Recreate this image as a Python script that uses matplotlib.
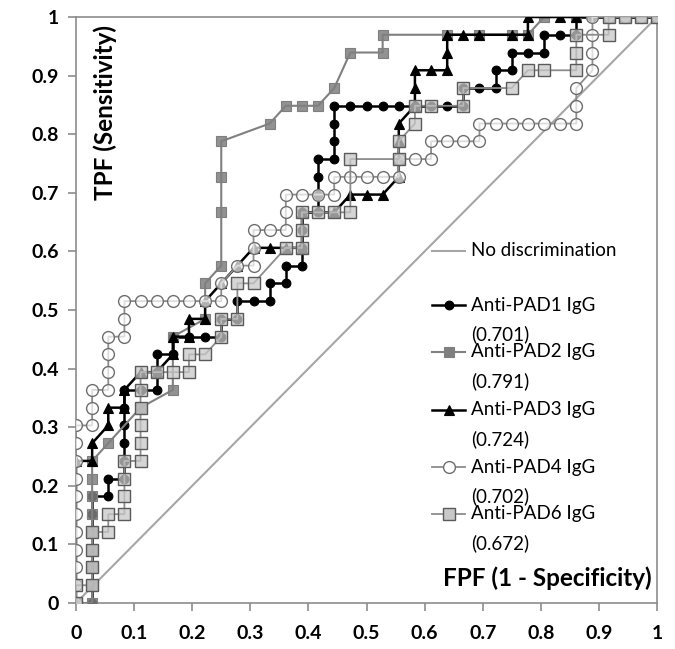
import numpy as np
import matplotlib
matplotlib.use("Agg")
import matplotlib.pyplot as plt
from matplotlib.lines import Line2D

# Sample sizes: controls (x axis) and cases (y axis)
N_CONTROLS = 36
N_CASES = 33

# ROC operating points as cumulative counts (false positives, true positives)
pad1_fp = [0, 1, 1, 1, 2, 2, 3, 3, 3, 3, 3, 3, 4, 5, 5, 5, 6, 6, 7, 8, 9, 9, 10, 10, 11, 12, 12, 13, 13, 14,
           14, 14, 14, 15, 15, 15, 15, 16, 16, 16, 16, 17, 18, 19, 20, 21, 22, 23, 24, 24, 25, 26, 26, 27, 27,
           28, 29, 29, 30, 31, 31, 32, 33, 34, 35, 36]
pad1_tp = [0, 0, 5, 6, 6, 7, 7, 8, 9, 10, 11, 12, 12, 12, 13, 14, 14, 15, 15, 15, 15, 16, 16, 17, 17, 17, 18, 18, 19, 19,
           20, 21, 22, 22, 23, 24, 25, 25, 26, 27, 28, 28, 28, 28, 28, 28, 28, 28, 28, 29, 29, 29, 30, 30, 31,
           31, 31, 32, 32, 32, 33, 33, 33, 33, 33, 33]

pad2_fp = [0, 1, 1, 1, 1, 1, 1, 1, 1, 1, 2, 4, 6, 6, 8, 8, 9, 9, 9, 9, 12, 13, 14, 15, 16, 17, 19, 19, 23, 25,
           27, 28, 29, 31, 33, 34, 35, 36]
pad2_tp = [0, 0, 1, 2, 3, 4, 5, 6, 7, 8, 9, 11, 12, 15, 16, 18, 19, 22, 24, 26, 27, 28, 28, 28, 29, 31, 31, 32, 32, 32,
           32, 32, 33, 33, 33, 33, 33, 33]

pad3_fp = [0, 0, 1, 1, 2, 2, 3, 3, 4, 5, 6, 6, 7, 7, 8, 8, 9, 10, 11, 12, 13, 14, 14, 16, 17, 18, 19, 20, 20, 20,
           20, 21, 21, 21, 22, 23, 23, 23, 24, 25, 27, 28, 28, 30, 31, 36]
pad3_tp = [0, 8, 8, 9, 10, 11, 11, 12, 13, 13, 14, 15, 15, 16, 16, 17, 18, 19, 20, 20, 20, 20, 22, 22, 23, 23, 23, 24, 25, 26,
           27, 28, 29, 30, 30, 30, 31, 32, 32, 32, 32, 32, 33, 33, 33, 33]

pad4_fp = [0, 0, 0, 0, 0, 0, 0, 0, 0, 0, 0, 1, 1, 1, 2, 2, 2, 2, 3, 3, 3, 4, 5, 6, 7, 8, 9, 9, 10, 11,
           11, 11, 12, 13, 13, 13, 14, 15, 16, 16, 17, 18, 19, 20, 20, 21, 22, 22, 23, 24, 25, 25, 26, 27, 28,
           29, 30, 31, 31, 31, 32, 32, 32, 32, 33, 34, 35, 36]
pad4_tp = [0, 1, 2, 3, 4, 5, 6, 7, 8, 9, 10, 10, 11, 12, 12, 13, 14, 15, 15, 16, 17, 17, 17, 17, 17, 17, 17, 18, 19, 19,
           20, 21, 21, 21, 22, 23, 23, 23, 23, 24, 24, 24, 24, 24, 25, 25, 25, 26, 26, 26, 26, 27, 27, 27, 27,
           27, 27, 27, 28, 29, 30, 31, 32, 33, 33, 33, 33, 33]

pad6_fp = [0, 0, 1, 1, 1, 1, 2, 2, 3, 3, 3, 3, 4, 4, 4, 4, 4, 4, 5, 6, 7, 7, 8, 9, 9, 10, 10, 11, 13, 14,
           14, 14, 15, 16, 17, 17, 20, 20, 21, 21, 22, 24, 24, 27, 28, 29, 31, 31, 31, 33, 33, 34, 35, 36]
pad6_tp = [0, 1, 1, 2, 3, 4, 4, 5, 5, 6, 7, 8, 8, 9, 10, 11, 12, 13, 13, 13, 13, 14, 14, 15, 16, 16, 18, 18, 20, 20,
           21, 22, 22, 22, 22, 25, 25, 26, 27, 28, 28, 28, 29, 29, 30, 30, 30, 31, 32, 32, 33, 33, 33, 33]

series_names = ["Anti-PAD1 IgG", "Anti-PAD2 IgG", "Anti-PAD3 IgG", "Anti-PAD4 IgG", "Anti-PAD6 IgG"]
auc_labels = ["(0.701)", "(0.791)", "(0.724)", "(0.702)", "(0.672)"]
tick_values = [0, 0.1, 0.2, 0.3, 0.4, 0.5, 0.6, 0.7, 0.8, 0.9, 1]
tick_labels = ["0", "0.1", "0.2", "0.3", "0.4", "0.5", "0.6", "0.7", "0.8", "0.9", "1"]

W, H = 675, 649
fig = plt.figure(figsize=(W / 100, H / 100), dpi=100)
ax = fig.add_axes([76 / W, 1 - 603 / H, 581 / W, 586 / H])

FONT = "Lato"
AXIS_GRAY = "#8c8c8c"

styles = [
    dict(color="black", lw=1.8, marker="o", ms=6.3, mfc="black", mec="black", mew=0.8, alpha_face=1.0),
    dict(color="#808080", lw=1.5, marker="s", ms=7.5, mfc="#7f7f7f", mec="#7f7f7f", mew=0.8, alpha_face=0.85),
    dict(color="black", lw=1.8, marker="^", ms=7, mfc="black", mec="black", mew=0.8, alpha_face=1.0),
    dict(color="#8c8c8c", lw=1.3, marker="o", ms=8.5, mfc="white", mec="#6e6e6e", mew=1.0, alpha_face=0.7),
    dict(color="#8c8c8c", lw=1.3, marker="s", ms=8, mfc="#c8c8c8", mec="#5a5a5a", mew=1.0, alpha_face=0.75),
]

series = [(pad1_fp, pad1_tp), (pad2_fp, pad2_tp), (pad3_fp, pad3_tp), (pad4_fp, pad4_tp), (pad6_fp, pad6_tp)]

# chance line
ax.plot([0, 1], [0, 1], color="#a6a6a6", lw=1.5, zorder=1)

for k, ((fp, tp), st) in enumerate(zip(series, styles)):
    x = np.asarray(fp) / N_CONTROLS
    y = np.asarray(tp) / N_CASES
    ax.plot(x, y, color=st["color"], lw=st["lw"], zorder=2 + 2 * k)
    face = matplotlib.colors.to_rgba(st["mfc"], st["alpha_face"])
    ax.plot(x, y, ls="none", marker=st["marker"], ms=st["ms"], mfc=face, mec=st["mec"],
            mew=st["mew"], zorder=3 + 2 * k)

ax.set_xlim(0, 1)
ax.set_ylim(0, 1)
ax.set_xticks(tick_values)
ax.set_yticks(tick_values)
ax.set_xticklabels(tick_labels)
ax.set_yticklabels(tick_labels)
for s in ax.spines.values():
    s.set_color(AXIS_GRAY)
    s.set_linewidth(1.2)
ax.tick_params(direction="out", length=6, width=1.2, color=AXIS_GRAY, labelsize=14)
ax.tick_params(axis="x", pad=10)
ax.tick_params(axis="y", pad=6)
for lab in ax.get_xticklabels() + ax.get_yticklabels():
    lab.set_fontfamily(FONT)
    lab.set_fontweight("bold")
    lab.set_color("black")

ax.text(0.05, 0.987, "TPF (Sensitivity)", rotation=90, ha="center", va="top",
        transform=ax.transAxes, fontsize=17.5, fontweight="bold", family=FONT)
ax.text(0.991, 0.043, "FPF (1 - Specificity)", ha="right", va="center",
        transform=ax.transAxes, fontsize=17.5, fontweight="bold", family=FONT)

# legend drawn in axes coordinates
def ax_xy(px, py):
    return (px - 76) / 581, (603 - py) / 586

LEG_FS = 13.5
lx0, lx1, tx = 432, 465, 471
_, ly = ax_xy(0, 251)
a0, _ = ax_xy(lx0, 0)
a1, _ = ax_xy(lx1, 0)
at, _ = ax_xy(tx, 0)
ax.add_line(Line2D([a0, a1], [ly, ly], color="#a6a6a6", lw=1.5, transform=ax.transAxes))
ax.text(at, ly, "No discrimination", transform=ax.transAxes, va="center", ha="left",
        fontsize=LEG_FS, family=FONT)

entry_rows = [305, 352, 410, 467, 514]
for name, auc, st, py in zip(series_names, auc_labels, styles, entry_rows):
    _, yy = ax_xy(0, py)
    _, yy2 = ax_xy(0, py + 29)
    ax.add_line(Line2D([a0, a1], [yy, yy], color=st["color"], lw=st["lw"], transform=ax.transAxes))
    face = matplotlib.colors.to_rgba(st["mfc"], 1.0)
    ax.add_line(Line2D([(a0 + a1) / 2], [yy], ls="none", marker=st["marker"], ms=st["ms"], mfc=face,
                       mec=st["mec"], mew=st["mew"], transform=ax.transAxes))
    ax.text(at, yy, name, transform=ax.transAxes, va="center", ha="left", fontsize=LEG_FS, family=FONT)
    ax.text(at, yy2, auc, transform=ax.transAxes, va="center", ha="left", fontsize=LEG_FS, family=FONT)

fig.savefig("out.png", dpi=100)
